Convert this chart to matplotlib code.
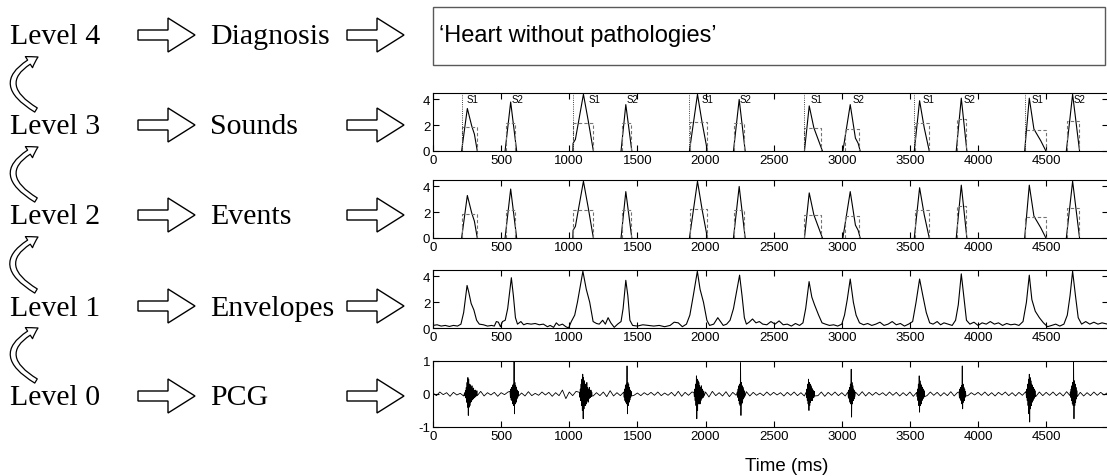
import matplotlib
matplotlib.use("Agg")
import matplotlib.pyplot as plt
from matplotlib.patches import Polygon, Rectangle, FancyArrowPatch

plt.rcParams['axes.unicode_minus'] = False

W, H = 1107, 477

# left-hand scheme
level_names = ['Level 4', 'Level 3', 'Level 2', 'Level 1', 'Level 0']
stage_names = ['Diagnosis', 'Sounds', 'Events', 'Envelopes', 'PCG']
diagnosis_text = '\u2018Heart without pathologies\u2019'
xlabel_text = 'Time (ms)'

time_ticks = [0, 500, 1000, 1500, 2000, 2500, 3000, 3500, 4000, 4500]
env_ticks = [0, 2, 4]
pcg_ticks = [-1, 0, 1]

# segmented events (levels 2 and 3), times in ms
sound_names = ['S1', 'S2', 'S1', 'S2', 'S1', 'S2', 'S1', 'S2', 'S1', 'S2', 'S1', 'S2']
sound_label_t = [247, 578, 1140, 1417, 1973, 2252, 2768, 3079, 3593, 3894, 4396, 4701]
event_t = [[210, 252, 284, 304, 325], [529, 570, 614],
           [1026, 1028, 1045, 1104, 1140, 1177], [1380, 1415, 1459],
           [1882, 1941, 1975, 2014], [2205, 2247, 2291],
           [2726, 2761, 2795, 2830, 2858], [3008, 3062, 3100, 3120, 3135],
           [3532, 3571, 3605, 3642], [3840, 3877, 3918],
           [4342, 4376, 4410, 4460, 4498], [4648, 4694, 4745]]
event_v = [[0, 3.3, 1.95, 1.3, 0], [0, 3.8, 0],
           [0, 0.6, 0.9, 4.4, 2.3, 0], [0, 3.6, 0],
           [0, 4.4, 2.2, 0], [0, 4.0, 0],
           [0, 3.5, 1.8, 0.8, 0], [0, 3.6, 1.0, 0.6, 0],
           [0, 3.9, 1.8, 0], [0, 4.1, 0],
           [0, 4.1, 1.7, 0.8, 0], [0, 4.4, 0]]
box_start = [210, 535, 1030, 1385, 1885, 2210, 2726, 3020, 3535, 3845, 4342, 4655]
box_end = [325, 605, 1175, 1450, 2010, 2285, 2850, 3125, 3640, 3915, 4495, 4740]
box_level = [1.9, 2.2, 2.15, 2.2, 2.25, 2.2, 1.8, 1.7, 2.2, 2.5, 1.6, 2.3]

# envelope (level 1)
env_t = [0, 30, 60, 90, 120, 150, 180, 205, 225, 250, 262, 280, 300, 320, 340,
         370, 400, 430, 450, 465, 480, 495, 510, 530, 548, 575, 590, 605, 620,
         645, 665, 690, 720, 750, 780, 810, 840, 860, 885, 905, 925, 950, 975,
         995, 1015, 1040, 1060, 1100, 1125, 1150, 1175, 1200, 1220, 1245, 1265,
         1285, 1305, 1330, 1355, 1380, 1395, 1415, 1430, 1445, 1465, 1500, 1540,
         1580, 1620, 1660, 1700, 1740, 1770, 1800, 1830, 1860, 1885, 1910, 1940,
         1960, 1985, 2010, 2030, 2060, 2090, 2110, 2130, 2155, 2180, 2205, 2250,
         2268, 2285, 2300, 2320, 2345, 2370, 2395, 2420, 2450, 2480, 2510, 2540,
         2570, 2600, 2630, 2660, 2690, 2715, 2735, 2760, 2780, 2800, 2830, 2855,
         2880, 2910, 2940, 2970, 3000, 3020, 3040, 3062, 3085, 3105, 3130, 3160,
         3190, 3220, 3250, 3280, 3310, 3340, 3370, 3400, 3430, 3460, 3490, 3520,
         3545, 3571, 3595, 3620, 3645, 3670, 3700, 3725, 3750, 3780, 3810, 3835,
         3855, 3877, 3895, 3915, 3940, 3970, 4000, 4030, 4060, 4090, 4120, 4150,
         4180, 4210, 4240, 4270, 4300, 4330, 4355, 4376, 4395, 4420, 4450, 4480,
         4510, 4540, 4570, 4600, 4630, 4655, 4675, 4694, 4715, 4735, 4760, 4790,
         4820, 4850, 4880, 4910, 4950]
env_v = [0.2, 0.25, 0.15, 0.2, 0.12, 0.2, 0.15, 0.3, 1.2, 3.3, 2.8, 1.9, 1.4, 0.6, 0.3,
         0.25, 0.15, 0.2, 0.15, 0.5, 0.45, 0.1, 0.5, 0.6, 1.5, 3.9, 2.5, 0.8, 0.3,
         0.5, 0.25, 0.35, 0.3, 0.35, 0.25, 0.3, 0.1, 0.2, 0.05, 0.4, 0.2, 0.3, 0.1,
         0.0, 0.5, 1.0, 2.0, 4.4, 3.0, 2.0, 0.5, 0.35, 0.3, 0.6, 0.3,
         0.8, 0.4, 0.05, 0.3, 0.5, 1.5, 3.7, 2.5, 0.6, 0.2, 0.15, 0.25,
         0.2, 0.15, 0.2, 0.1, 0.2, 0.45, 0.4, 0.1, 0.3, 1.0, 2.5, 4.4,
         3.0, 2.0, 0.6, 0.2, 0.3, 0.8, 0.5, 0.2, 0.3, 0.6, 1.5, 4.1,
         2.5, 0.8, 0.3, 0.45, 0.7, 0.4, 0.5, 0.3, 0.25, 0.5, 0.3, 0.55,
         0.25, 0.3, 0.15, 0.35, 0.2, 0.4, 1.5, 3.6, 2.4, 1.8, 1.0, 0.4,
         0.3, 0.2, 0.25, 0.15, 0.3, 1.0, 2.2, 3.8, 2.0, 1.0, 0.4, 0.25,
         0.35, 0.2, 0.3, 0.45, 0.2, 0.3, 0.5, 0.25, 0.35, 0.15, 0.3, 0.5,
         2.0, 3.8, 2.5, 1.2, 0.4, 0.3, 0.5, 0.25, 0.4, 0.3, 0.2, 0.6,
         1.8, 4.2, 2.5, 0.6, 0.3, 0.45, 0.2, 0.4, 0.3, 0.5, 0.3, 0.4,
         0.2, 0.35, 0.25, 0.3, 0.2, 0.5, 2.0, 4.1, 2.2, 1.3, 0.8, 0.4,
         0.1, 0.2, 0.3, 0.15, 0.3, 1.0, 2.5, 4.4, 2.5, 0.8, 0.3, 0.5,
         0.3, 0.45, 0.3, 0.4, 0.3]

# PCG (level 0): background every 25 ms, plus bursts sampled every 3 ms
pcg_step = 25
pcg_noise = [0.03, -0.05, 0.06, -0.02, 0.04, -0.07, 0.05, -0.03, 0.02, -0.06,
             0.07, -0.04, 0.03, -0.05, 0.08, -0.06, 0.04, -0.03, 0.05, -0.07,
             0.04, -0.02, 0.06, -0.08, 0.05, -0.04, 0.03, -0.06, 0.07, -0.05,
             0.02, -0.04, 0.06, -0.03, 0.05, -0.07, 0.04, -0.05, 0.12, -0.14,
             0.06, -0.05, 0.08, -0.04, 0.05, -0.09, 0.07, -0.06, 0.04, -0.05,
             0.06, -0.08, 0.10, -0.06, 0.04, -0.05, 0.03, -0.06, 0.05, -0.04,
             0.03, -0.05, 0.04, -0.03, 0.05, -0.04, 0.06, -0.05, 0.03, -0.04,
             0.05, -0.06, 0.08, -0.07, 0.05, -0.04, 0.06, -0.08, 0.07, -0.05,
             0.06, -0.09, 0.08, -0.05, 0.04, -0.06, 0.07, -0.08, 0.05, -0.04,
             0.06, -0.05, 0.07, -0.06, 0.05, -0.04, 0.03, -0.05, 0.06, -0.04,
             0.05, -0.03, 0.04, -0.06, 0.05, -0.04, 0.06, -0.05, 0.04, -0.06,
             0.07, -0.06, 0.08, -0.05, 0.06, -0.07, 0.05, -0.04, 0.06, -0.05,
             0.04, -0.06, 0.05, -0.07, 0.06, -0.05, 0.07, -0.06, 0.05, -0.04,
             0.05, -0.03, 0.04, -0.05, 0.06, -0.04, 0.05, -0.06, 0.04, -0.05,
             0.06, -0.07, 0.05, -0.06, 0.08, -0.05, 0.06, -0.04, 0.05, -0.06,
             0.04, -0.05, 0.07, -0.06, 0.05, -0.04, 0.06, -0.05, 0.04, -0.03,
             0.05, -0.04, 0.06, -0.05, 0.04, -0.06, 0.05, -0.03, 0.06, -0.05,
             0.04, -0.06, 0.05, -0.04, 0.07, -0.06, 0.08, -0.07, 0.06, -0.05,
             0.05, -0.04, 0.06, -0.05, 0.04, -0.06, 0.07, -0.05, 0.06, -0.04,
             0.05, -0.06, 0.04, -0.05, 0.06, -0.04, 0.05, -0.03, 0.04]
burst_step = 3
burst_start = [232, 565, 1075, 1400, 1915, 2233, 2738, 3045, 3550, 3860, 4352, 4677]
burst_vals = [
    [0.04, -0.06, 0.1, -0.12, 0.2, -0.25, 0.35, -0.4, 0.5, -0.65, 0.45, -0.4, 0.3, -0.35, 0.28, -0.25,
     0.2, -0.22, 0.25, -0.18, 0.15, -0.15, 0.18, -0.12, 0.1, -0.1, 0.12, -0.08, 0.08, -0.06, 0.1, -0.05],
    [0.08, -0.1, 0.15, -0.18, 0.2, -0.2, 0.25, -0.3, 0.3, -0.35, 1.0, -0.6, 0.35, -0.3, 0.25, -0.25,
     0.2, -0.15, 0.12, -0.1, 0.08, -0.06],
    [0.05, -0.1, 0.15, -0.2, 0.3, -0.35, 0.45, -0.5, 0.6, -0.75, 0.5, -0.45, 0.4, -0.35, 0.3, -0.35,
     0.25, -0.3, 0.35, -0.2, 0.2, -0.25, 0.15, -0.15, 0.2, -0.12, 0.1, -0.1, 0.12, -0.08, 0.06, -0.06],
    [0.06, -0.1, 0.15, -0.2, 0.25, -0.25, 0.3, -0.3, 0.85, -0.6, 0.35, -0.35, 0.3, -0.25, 0.2, -0.18,
     0.12, -0.1, 0.08, -0.06],
    [0.05, -0.08, 0.15, -0.2, 0.3, -0.35, 0.55, -0.75, 0.45, -0.5, 0.4, -0.3, 0.35, -0.3, 0.25, -0.3,
     0.2, -0.2, 0.25, -0.15, 0.15, -0.12, 0.1, -0.1, 0.08, -0.06],
    [0.06, -0.1, 0.15, -0.2, 0.25, -0.3, 0.3, -0.35, 0.95, -0.65, 0.35, -0.3, 0.25, -0.25, 0.2, -0.15,
     0.12, -0.1, 0.08, -0.06],
    [0.05, -0.1, 0.15, -0.2, 0.3, -0.3, 0.45, -0.5, 0.35, -0.35, 0.3, -0.25, 0.25, -0.2, 0.18, -0.2,
     0.15, -0.12, 0.1, -0.1, 0.08, -0.06],
    [0.06, -0.1, 0.12, -0.15, 0.2, -0.25, 0.3, -0.3, 0.75, -0.7, 0.35, -0.3, 0.25, -0.2, 0.15, -0.15,
     0.1, -0.08],
    [0.05, -0.08, 0.15, -0.2, 0.3, -0.35, 0.55, -0.55, 0.4, -0.35, 0.3, -0.3, 0.25, -0.2, 0.2, -0.15,
     0.15, -0.12, 0.1, -0.08],
    [0.06, -0.1, 0.15, -0.15, 0.2, -0.2, 0.25, -0.3, 0.85, -0.45, 0.3, -0.25, 0.2, -0.2, 0.15, -0.1,
     0.08, -0.06],
    [0.05, -0.1, 0.15, -0.2, 0.3, -0.35, 0.45, -0.6, 0.6, -0.85, 0.5, -0.45, 0.4, -0.35, 0.3, -0.25,
     0.25, -0.2, 0.2, -0.15, 0.15, -0.12, 0.1, -0.08],
    [0.06, -0.1, 0.15, -0.2, 0.25, -0.3, 0.35, -0.35, 1.0, -0.75, 0.4, -0.35, 0.3, -0.25, 0.2, -0.15,
     0.1, -0.08],
]

T_MAX = 4950


def fx(x):
    return x / W


def fy(y):
    return 1 - y / H


def make_axes(top, bottom, ylim, yticks):
    ax = fig.add_axes([fx(433), fy(bottom), fx(1107.5) - fx(433), (bottom - top) / H])
    ax.set_xlim(0, T_MAX)
    ax.set_ylim(*ylim)
    ax.set_xticks(time_ticks)
    ax.set_yticks(yticks)
    ax.tick_params(direction='in', length=4, width=0.8, top=True, right=True,
                   labelsize=9.5, pad=2)
    for s in ax.spines.values():
        s.set_linewidth(0.8)
    return ax


def draw_events(ax):
    for t, v in zip(event_t, event_v):
        ax.plot(t, v, color='k', lw=0.8)
    for t0, t1, h in zip(box_start, box_end, box_level):
        ax.plot([t0, t0, t1, t1], [0, h, h, 0], color='0.45', lw=0.8, ls=(0, (3, 2)))


def block_arrow(x0, yc):
    # hollow block arrow, pixel coords measured from the top-left corner
    pts = [(x0, yc - 5), (x0 + 30, yc - 5), (x0 + 30, yc - 17), (x0 + 57, yc),
           (x0 + 30, yc + 17), (x0 + 30, yc + 5), (x0, yc + 5)]
    fig.patches.append(Polygon([(fx(a), fy(b)) for a, b in pts], closed=True,
                               transform=fig.transFigure, fc='white', ec='k', lw=1))


fig = plt.figure(figsize=(W / 100, H / 100), dpi=100)

serif = ['Liberation Serif', 'DejaVu Serif']
sans = ['Liberation Sans', 'DejaVu Sans']
plt.rcParams['font.family'] = sans

level_y = [36, 126, 216, 307, 397]
for name, stage, yc in zip(level_names, stage_names, level_y):
    fig.text(fx(10), fy(yc + 8.5), name, family=serif, fontsize=21.5, va='baseline')
    fig.text(fx(210), fy(yc + 8.5), stage, family=serif, fontsize=21.5, va='baseline')
    block_arrow(138, yc)
    block_arrow(347, yc)

# curved arrows climbing from one level to the next
for y_low, y_up in zip(level_y[1:], level_y[:-1]):
    arr = FancyArrowPatch((fx(36), fy(y_low - 15)), (fx(38), fy(y_up + 22)),
                          transform=fig.transFigure,
                          connectionstyle='arc3,rad=-0.9',
                          arrowstyle='simple,head_length=0.75,head_width=0.95,tail_width=0.35',
                          mutation_scale=10, fc='white', ec='k', lw=0.9,
                          shrinkA=0, shrinkB=0)
    fig.patches.append(arr)

# level 4: diagnosis box
fig.patches.append(Rectangle((fx(433), fy(66)), fx(1105) - fx(433), (66 - 8) / H,
                             transform=fig.transFigure, fill=False, ec='0.35', lw=1))
fig.text(fx(439), fy(42), diagnosis_text, fontsize=17, va='baseline')

# level 3: sounds
ax3 = make_axes(94, 152, (0, 4.5), env_ticks)
draw_events(ax3)
for name, lt, t in zip(sound_names, sound_label_t, event_t):
    if name == 'S1':
        ax3.axvline(t[0], color='k', lw=0.6, ls=':')
    ax3.text(lt, 4.0, name, fontsize=7, va='center', ha='left')

# level 2: events
ax2 = make_axes(181, 239, (0, 4.5), env_ticks)
draw_events(ax2)

# level 1: envelopes
ax1 = make_axes(271, 329, (0, 4.5), env_ticks)
ax1.plot(env_t, env_v, color='k', lw=0.8)

# level 0: PCG
pcg = [(i * pcg_step, v) for i, v in enumerate(pcg_noise)]
spans = [(s, s + burst_step * (len(b) - 1)) for s, b in zip(burst_start, burst_vals)]
pcg = [p for p in pcg if not any(a <= p[0] <= b for a, b in spans)]
for s, b in zip(burst_start, burst_vals):
    pcg += [(s + burst_step * k, v) for k, v in enumerate(b)]
pcg.sort()
ax0 = make_axes(362, 428, (-1, 1), pcg_ticks)
ax0.plot([p[0] for p in pcg], [p[1] for p in pcg], color='k', lw=0.6)

fig.text(fx(787), fy(471), xlabel_text, fontsize=13.5, ha='center', va='baseline')

fig.savefig('out.png', dpi=100, facecolor='white')
